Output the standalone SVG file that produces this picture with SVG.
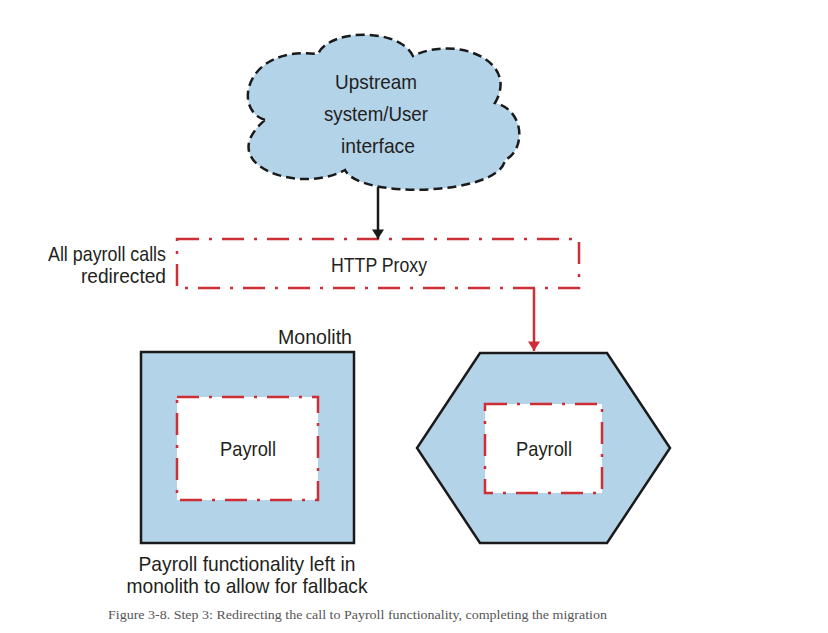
<svg xmlns="http://www.w3.org/2000/svg" width="828" height="633" viewBox="0 0 828 633">
<style>
.t{font-family:"Liberation Sans",Arial,sans-serif;font-size:21px;fill:#231f20}
.blue{fill:#b3d3e9;stroke:#1a1a1a;stroke-width:2.5}
.red{fill:#fff;stroke:#cc2f36;stroke-width:2.5;stroke-dasharray:22 10 3 10}
.cap{font-family:"Liberation Serif","DejaVu Serif",serif;font-size:13px;fill:#555}
</style>
<defs>
<marker id="ab" markerWidth="15" markerHeight="12" refX="12" refY="7.5" orient="auto" markerUnits="userSpaceOnUse" viewBox="0 0 12 15"><path d="M0,0 L12,7.5 L0,15 Z" fill="#1a1a1a"/></marker>
<marker id="ar" markerWidth="15" markerHeight="12" refX="12" refY="7.5" orient="auto" markerUnits="userSpaceOnUse" viewBox="0 0 12 15"><path d="M0,0 L12,7.5 L0,15 Z" fill="#cc2f36"/></marker>
</defs>
<rect width="828" height="633" fill="#fff"/>
<g id="upstream">
<path d="M265,120 C232,110 245,45 318,54 C330,28 400,28 413,56 C455,35 520,60 495,103 C525,110 526,150 505,160 C500,195 360,200 345,170 C300,195 212,165 265,120 Z" fill="#b3d3e9" stroke="#1a1a1a" stroke-width="2.5" stroke-dasharray="9 5"/>
<text class="t" x="376" y="89" text-anchor="middle" textLength="82" lengthAdjust="spacingAndGlyphs">Upstream</text>
<text class="t" x="376" y="121" text-anchor="middle" textLength="104" lengthAdjust="spacingAndGlyphs">system/User</text>
<text class="t" x="378" y="153" text-anchor="middle" textLength="74" lengthAdjust="spacingAndGlyphs">interface</text>
</g>
<g id="proxy">
<rect class="red" x="177" y="239" width="402" height="49"/>
<text class="t" x="379" y="272" text-anchor="middle" textLength="96" lengthAdjust="spacingAndGlyphs">HTTP Proxy</text>
</g>
<g id="proxy-label">
<text class="t" x="166" y="261" text-anchor="end" textLength="118" lengthAdjust="spacingAndGlyphs">All payroll calls</text>
<text class="t" x="166" y="283" text-anchor="end" textLength="85" lengthAdjust="spacingAndGlyphs">redirected</text>
</g>
<g id="monolith">
<rect class="blue" x="141" y="352" width="213" height="191"/>
<text class="t" x="352" y="344" text-anchor="end" textLength="74" lengthAdjust="spacingAndGlyphs">Monolith</text>
<rect class="red" x="177" y="397" width="141" height="103"/>
<text class="t" x="248" y="456" text-anchor="middle" textLength="56" lengthAdjust="spacingAndGlyphs">Payroll</text>
<text class="t" x="247" y="571" text-anchor="middle" textLength="217" lengthAdjust="spacingAndGlyphs">Payroll functionality left in</text>
<text class="t" x="247" y="593" text-anchor="middle" textLength="241" lengthAdjust="spacingAndGlyphs">monolith to allow for fallback</text>
</g>
<g id="service">
<polygon class="blue" points="480,353 607,353 670,448 607,543 480,543 417,448"/>
<rect class="red" x="485" y="404" width="117" height="89"/>
<text class="t" x="544" y="456" text-anchor="middle" textLength="56" lengthAdjust="spacingAndGlyphs">Payroll</text>
</g>
<g id="connectors">
<line x1="378" y1="187" x2="378" y2="239" stroke="#1a1a1a" stroke-width="2.5" marker-end="url(#ab)"/>
<line x1="534" y1="288" x2="534" y2="351" stroke="#cc2f36" stroke-width="2.5" marker-end="url(#ar)"/>
</g>
<text class="cap" x="108" y="619" textLength="499" lengthAdjust="spacingAndGlyphs">Figure 3-8. Step 3: Redirecting the call to Payroll functionality, completing the migration</text>
</svg>
